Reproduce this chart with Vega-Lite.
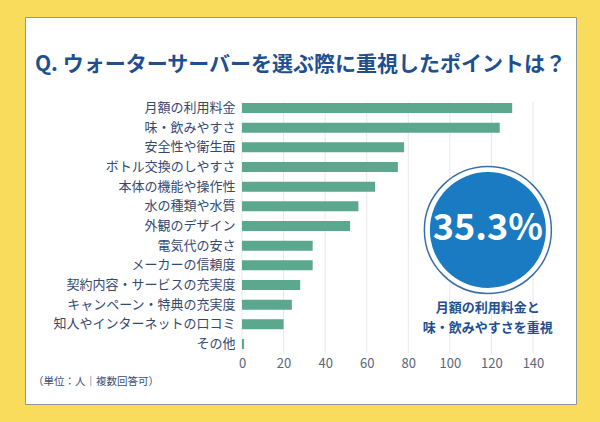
{
  "$schema": "https://vega.github.io/schema/vega-lite/v6.json",
  "width": 551,
  "height": 387,
  "autosize": {"type": "none"},
  "padding": {"left": 25, "top": 17, "right": 24, "bottom": 18},
  "background": "#F9DC5B",
  "config": {
    "view": {"fill": "#ffffff", "stroke": "#8f959c", "strokeWidth": 1},
    "font": "Noto Sans CJK JP"
  },
  "title": {
    "text": "Q. ウォーターサーバーを選ぶ際に重視したポイントは？",
    "font": "Noto Sans CJK JP",
    "fontSize": 21,
    "fontWeight": "bold",
    "color": "#1d4f91",
    "anchor": "middle",
    "frame": "group",
    "offset": -58
  },
  "data": {
    "values": [
      {"item": "月額の利用料金", "count": 130},
      {"item": "味・飲みやすさ", "count": 124},
      {"item": "安全性や衛生面", "count": 78},
      {"item": "ボトル交換のしやすさ", "count": 75},
      {"item": "本体の機能や操作性", "count": 64},
      {"item": "水の種類や水質", "count": 56},
      {"item": "外観のデザイン", "count": 52},
      {"item": "電気代の安さ", "count": 34},
      {"item": "メーカーの信頼度", "count": 34},
      {"item": "契約内容・サービスの充実度", "count": 28},
      {"item": "キャンペーン・特典の充実度", "count": 24},
      {"item": "知人やインターネットの口コミ", "count": 20},
      {"item": "その他", "count": 1}
    ]
  },
  "layer": [
    {
      "data": {"values": [{"v": 0}, {"v": 20}, {"v": 40}, {"v": 60}, {"v": 80}, {"v": 100}, {"v": 120}, {"v": 140}]},
      "mark": {"type": "rule", "color": "#e8e8e8", "strokeWidth": 1, "yOffset": -6, "y2Offset": 9},
      "encoding": {
        "x": {"field": "v", "type": "quantitative"},
        "y": {"datum": "月額の利用料金", "type": "nominal"},
        "y2": {"datum": "その他"}
      }
    },
    {
      "mark": {"type": "bar", "color": "#5ba88f"},
      "encoding": {
        "x": {
          "field": "count",
          "type": "quantitative",
          "scale": {"domain": [-104.4, 160.7], "nice": false, "zero": false},
          "axis": {
            "values": [0, 20, 40, 60, 80, 100, 120, 140],
            "title": null,
            "domain": false,
            "ticks": false,
            "grid": false,
            "offset": -51,
            "labelPadding": 4,
            "labelFont": "Noto Sans CJK JP",
            "labelFontSize": 13,
            "labelColor": "#58657a"
          }
        },
        "y": {
          "field": "item",
          "type": "nominal",
          "sort": null,
          "scale": {
            "domain": ["月額の利用料金", "味・飲みやすさ", "安全性や衛生面", "ボトル交換のしやすさ", "本体の機能や操作性", "水の種類や水質", "外観のデザイン", "電気代の安さ", "メーカーの信頼度", "契約内容・サービスの充実度", "キャンペーン・特典の充実度", "知人やインターネットの口コミ", "その他"],
            "range": [86, 332],
            "paddingInner": 0.49,
            "paddingOuter": 0
          },
          "axis": {
            "title": null,
            "domain": false,
            "ticks": false,
            "grid": false,
            "offset": -217,
            "labelPadding": 7,
            "labelLimit": 300,
            "labelFont": "Noto Sans CJK JP",
            "labelFontSize": 13,
            "labelColor": "#35496f"
          }
        }
      }
    },
    {
      "data": {"values": [{}]},
      "mark": {"type": "point", "shape": "circle", "filled": true, "fill": "#ffffff", "stroke": "#3a6fa5", "strokeWidth": 1.5, "opacity": 1, "size": 16129, "yOffset": 4},
      "encoding": {
        "x": {"datum": 118.3, "type": "quantitative"},
        "y": {"datum": "外観のデザイン", "type": "nominal"}
      }
    },
    {
      "data": {"values": [{}]},
      "mark": {"type": "point", "shape": "circle", "filled": true, "fill": "#1a7bc2", "strokeWidth": 0, "opacity": 1, "size": 13456, "yOffset": 4},
      "encoding": {
        "x": {"datum": 118.3, "type": "quantitative"},
        "y": {"datum": "外観のデザイン", "type": "nominal"}
      }
    },
    {
      "data": {"values": [{"t": "35.3%"}]},
      "mark": {"type": "text", "font": "Noto Sans CJK JP", "fontSize": 36, "fontWeight": "bold", "color": "#ffffff", "align": "center", "baseline": "middle", "yOffset": 3},
      "encoding": {
        "x": {"datum": 118.3, "type": "quantitative"},
        "y": {"datum": "外観のデザイン", "type": "nominal"},
        "text": {"field": "t"}
      }
    },
    {
      "data": {"values": [{"t": "月額の利用料金と"}]},
      "mark": {"type": "text", "font": "Noto Sans CJK JP", "fontSize": 13, "fontWeight": "bold", "color": "#1d4f91", "align": "center", "baseline": "middle", "yOffset": 3},
      "encoding": {
        "x": {"datum": 118.3, "type": "quantitative"},
        "y": {"datum": "キャンペーン・特典の充実度", "type": "nominal"},
        "text": {"field": "t"}
      }
    },
    {
      "data": {"values": [{"t": "味・飲みやすさを重視"}]},
      "mark": {"type": "text", "font": "Noto Sans CJK JP", "fontSize": 13, "fontWeight": "bold", "color": "#1d4f91", "align": "center", "baseline": "middle", "yOffset": 4},
      "encoding": {
        "x": {"datum": 118.3, "type": "quantitative"},
        "y": {"datum": "知人やインターネットの口コミ", "type": "nominal"},
        "text": {"field": "t"}
      }
    },
    {
      "data": {"values": [{"t": "（単位：人｜複数回答可）"}]},
      "mark": {"type": "text", "font": "Noto Sans CJK JP", "fontSize": 10.5, "color": "#3b4f75", "align": "left", "baseline": "middle", "yOffset": 38},
      "encoding": {
        "x": {"datum": -100.5, "type": "quantitative"},
        "y": {"datum": "その他", "type": "nominal"},
        "text": {"field": "t"}
      }
    }
  ]
}
